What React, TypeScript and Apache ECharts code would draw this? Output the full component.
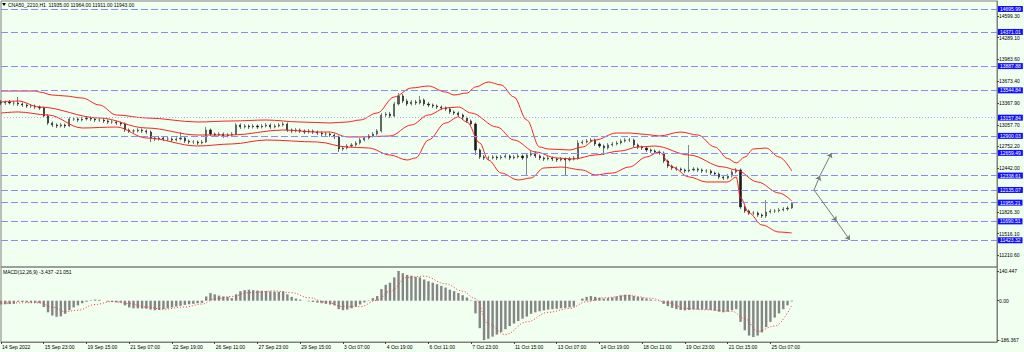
import { useEffect, useRef } from 'react';
import * as echarts from 'echarts';

const FONT = '"Liberation Sans", Arial, sans-serif';
const SYMBOL_TITLE = 'CNA50_2210,H1  11935.00 11964.00 11911.00 11943.00';
const MACD_TITLE = 'MACD(12,26,9) -3.437 -21.051';

const timeLabels = [
  '14 Sep 2022', '15 Sep 23:00', '19 Sep 15:00', '21 Sep 07:00', '22 Sep 19:00',
  '26 Sep 11:00', '27 Sep 23:00', '29 Sep 15:00', '3 Oct 07:00', '4 Oct 19:00',
  '6 Oct 11:00', '7 Oct 23:00', '11 Oct 15:00', '13 Oct 07:00', '14 Oct 19:00',
  '18 Oct 11:00', '19 Oct 23:00', '21 Oct 15:00', '25 Oct 07:00',
];
const SLOT_COUNT = 234;
const LABEL_EVERY = 10;

// [open, close, low, high]
const candles = [
  [13375, 13366, 13338, 13408], [13366, 13380, 13338, 13401], [13380, 13366, 13345, 13408], [13366, 13366, 13330, 13394], [13366, 13352, 13323, 13451],
  [13352, 13338, 13309, 13373], [13338, 13323, 13295, 13359], [13323, 13323, 13295, 13352], [13323, 13309, 13281, 13345], [13309, 13295, 13267, 13330],
  [13295, 13182, 13154, 13316], [13182, 13083, 13055, 13210], [13083, 13055, 13026, 13104], [13055, 13040, 13012, 13076], [13040, 13055, 13019, 13083],
  [13055, 13040, 13012, 13076], [13040, 13139, 13026, 13168], [13139, 13139, 13111, 13168], [13139, 13125, 13097, 13161], [13125, 13139, 13104, 13168],
  [13139, 13154, 13118, 13182], [13154, 13139, 13111, 13175], [13139, 13125, 13097, 13161], [13125, 13125, 13097, 13154], [13125, 13111, 13083, 13146],
  [13111, 13097, 13069, 13132], [13097, 13097, 13069, 13125], [13097, 13083, 13055, 13118], [13083, 13069, 13040, 13104], [13069, 12984, 12955, 13090],
  [12984, 12970, 12941, 13005], [12970, 12970, 12941, 12998], [12970, 12984, 12948, 13012], [12984, 12970, 12941, 13005], [12970, 12955, 12927, 12991],
  [12955, 12871, 12814, 12977], [12871, 12856, 12828, 12892], [12856, 12871, 12835, 12899], [12871, 12856, 12828, 12892], [12856, 12856, 12828, 12885],
  [12856, 12842, 12814, 12878], [12842, 12856, 12821, 12885], [12856, 12871, 12835, 12955], [12871, 12828, 12800, 12892], [12828, 12814, 12786, 12849],
  [12814, 12814, 12786, 12842], [12814, 12800, 12772, 12835], [12800, 12814, 12779, 12842], [12814, 12984, 12800, 13026], [12984, 12927, 12899, 13005],
  [12927, 12913, 12885, 12948], [12913, 12927, 12892, 12955], [12927, 12899, 12871, 12948], [12899, 12913, 12878, 12941], [12913, 12927, 12892, 12955],
  [12927, 13055, 12913, 13083], [13055, 13026, 12998, 13076], [13026, 13040, 13005, 13069], [13040, 13026, 12998, 13062], [13026, 13040, 13005, 13069],
  [13040, 13026, 12998, 13062], [13026, 13040, 13005, 13069], [13040, 13055, 13019, 13083], [13055, 13026, 12998, 13076], [13026, 13040, 13005, 13069],
  [13040, 13055, 13019, 13083], [13055, 13069, 13033, 13097], [13069, 12984, 12955, 13090], [12984, 12970, 12941, 13005], [12970, 12984, 12948, 13012],
  [12984, 12970, 12941, 13005], [12970, 12955, 12927, 12991], [12955, 12970, 12934, 12998], [12970, 12955, 12927, 12991], [12955, 12941, 12913, 12977],
  [12941, 12927, 12899, 12962], [12927, 12927, 12899, 12955], [12927, 12913, 12885, 12948], [12913, 12885, 12856, 12934], [12885, 12715, 12673, 12906],
  [12715, 12729, 12687, 12757], [12729, 12757, 12708, 12786], [12757, 12772, 12736, 12800], [12772, 12800, 12750, 12828], [12800, 12842, 12779, 12871],
  [12842, 12871, 12821, 12899], [12871, 12899, 12849, 12927], [12899, 12927, 12878, 12955], [12927, 12970, 12906, 12998], [12970, 13196, 12948, 13224],
  [13196, 13210, 13168, 13239], [13210, 13182, 13154, 13239], [13182, 13352, 13161, 13380], [13352, 13465, 13330, 13507], [13465, 13394, 13366, 13493],
  [13394, 13352, 13323, 13422], [13352, 13380, 13330, 13408], [13380, 13366, 13338, 13408], [13366, 13408, 13345, 13465], [13408, 13352, 13323, 13429],
  [13352, 13338, 13309, 13380], [13338, 13323, 13295, 13359], [13323, 13309, 13281, 13345], [13309, 13295, 13267, 13330], [13295, 13281, 13253, 13316],
  [13281, 13239, 13210, 13302], [13239, 13224, 13196, 13260], [13224, 13196, 13168, 13246], [13196, 13154, 13125, 13217], [13154, 13111, 13083, 13175],
  [13111, 13069, 13040, 13132], [13069, 12701, 12630, 13090], [12701, 12602, 12573, 12722], [12602, 12588, 12559, 12630], [12588, 12588, 12559, 12616],
  [12588, 12602, 12566, 12630], [12602, 12588, 12559, 12623], [12588, 12602, 12566, 12630], [12602, 12616, 12581, 12644], [12616, 12588, 12559, 12637],
  [12588, 12602, 12566, 12630], [12602, 12616, 12581, 12644], [12616, 12588, 12559, 12637], [12588, 12630, 12347, 12658], [12630, 12658, 12609, 12687],
  [12658, 12616, 12588, 12680], [12616, 12588, 12559, 12637], [12588, 12573, 12545, 12609], [12573, 12588, 12552, 12616], [12588, 12573, 12545, 12609],
  [12573, 12559, 12531, 12595], [12559, 12573, 12538, 12602], [12573, 12559, 12347, 12595], [12559, 12573, 12538, 12602], [12573, 12588, 12552, 12616],
  [12588, 12800, 12566, 12842], [12800, 12814, 12779, 12842], [12814, 12828, 12793, 12856], [12828, 12842, 12807, 12871], [12842, 12786, 12757, 12863],
  [12786, 12757, 12729, 12807], [12757, 12729, 12630, 12779], [12729, 12772, 12708, 12800], [12772, 12786, 12750, 12814], [12786, 12800, 12765, 12828],
  [12800, 12828, 12779, 12856], [12828, 12842, 12807, 12871], [12842, 12842, 12814, 12871], [12842, 12772, 12743, 12863], [12772, 12743, 12715, 12793],
  [12743, 12729, 12701, 12764], [12729, 12701, 12673, 12750], [12701, 12687, 12658, 12722], [12687, 12673, 12644, 12708], [12673, 12658, 12630, 12694],
  [12658, 12545, 12517, 12680], [12545, 12474, 12446, 12566], [12474, 12446, 12418, 12495], [12446, 12432, 12404, 12467], [12432, 12418, 12390, 12453],
  [12418, 12404, 12375, 12439], [12404, 12418, 12383, 12772], [12418, 12432, 12397, 12460], [12432, 12418, 12390, 12453], [12418, 12404, 12375, 12439],
  [12404, 12404, 12375, 12432], [12404, 12375, 12347, 12425], [12375, 12361, 12333, 12397], [12361, 12319, 12290, 12382], [12319, 12305, 12276, 12340],
  [12305, 12333, 12283, 12361], [12333, 12390, 12312, 12418], [12390, 12418, 12368, 12446], [12418, 11894, 11866, 12439], [11894, 11838, 11809, 11915],
  [11838, 11809, 11781, 11859], [11809, 11809, 11781, 11838], [11809, 11781, 11753, 11831], [11781, 11767, 11739, 11802], [11767, 11824, 11739, 11993],
  [11824, 11838, 11802, 11866], [11838, 11838, 11809, 11866], [11838, 11852, 11817, 11880], [11852, 11866, 11831, 11894], [11866, 11880, 11838, 11908],
  [11880, 11943, 11866, 11964],
];

// Bollinger bands: [slot, value]
const bbUpper = [
  [0, 13535], [8, 13535], [9, 13521], [12, 13479], [15, 13465], [19, 13436], [23, 13338], [27, 13196], [34, 13154],
  [46, 13097], [54, 13111], [62, 13125], [70, 13097], [77, 13083], [81, 13097], [84, 13125], [88, 13224], [92, 13451],
  [96, 13578], [100, 13606], [104, 13521], [106, 13479], [109, 13507], [111, 13592], [114, 13663], [117, 13621],
  [120, 13451], [123, 13125], [126, 12743], [128, 12715], [133, 12701], [136, 12743], [139, 12842], [144, 12941],
  [147, 12941], [151, 12920], [154, 12899], [159, 12955], [163, 12913], [167, 12743], [170, 12580], [172, 12517],
  [174, 12600], [176, 12715], [179, 12729], [182, 12602], [185, 12404],
];
const bbMiddle = [
  [0, 13380], [4, 13394], [9, 13309], [23, 13154], [34, 13012], [46, 12913], [54, 12913], [66, 12984], [74, 12955],
  [77, 12955], [81, 12885], [84, 12885], [91, 12899], [96, 13055], [100, 13196], [104, 13295], [107, 13309],
  [110, 13224], [116, 13026], [120, 12842], [125, 12673], [130, 12588], [134, 12573], [139, 12630], [145, 12687],
  [149, 12743], [153, 12757], [161, 12630], [169, 12460], [172, 12418], [177, 12248], [182, 12092], [185, 11979],
];
const bbLower = [
  [0, 13224], [4, 13239], [11, 13196], [19, 13012], [27, 13026], [34, 12871], [46, 12757], [54, 12786], [62, 12842],
  [74, 12814], [81, 12743], [86, 12729], [91, 12630], [95, 12559], [97, 12588], [100, 12842], [104, 13083],
  [107, 13168], [109, 13097], [112, 12800], [114, 12559], [117, 12375], [121, 12276], [124, 12305], [127, 12446],
  [131, 12460], [136, 12418], [139, 12347], [143, 12375], [147, 12460], [151, 12602], [154, 12673], [157, 12460],
  [161, 12319], [165, 12248], [170, 12248], [172, 12319], [173, 12022], [175, 11809], [178, 11640], [182, 11540],
  [185, 11526],
];

const levelLines = [14695.99, 14371.01, 13887.88, 13544.84, 13157.84, 12900.03, 12659.49, 12338.61, 12135.07, 11955.21, 11690.51, 11423.32];
const dottedLevels = [13157.84];
const priceTicks = [14599.3, 14289.1, 13983.6, 13673.4, 13367.9, 13057.7, 12752.2, 12442.0, 11826.3, 11516.1, 11210.6];
const PRICE_MIN = 11045;
const PRICE_MAX = 14809;

const macdHist = [
  -18, -17, -16, -14, -5,
  -6, -8, -9, -10, -12,
  -30, -55, -70, -76, -74,
  -62, -45, -32, -22, -12,
  -5, 2, 5, 4, 0,
  -4, -6, -8, -9, -22,
  -32, -36, -36, -37, -38,
  -42, -45, -44, -40, -36,
  -32, -28, -24, -20, -17,
  -15, -12, -10, 20, 36,
  30, 24, 20, 18, 12,
  30, 45, 50, 52, 50,
  48, 47, 46, 44, 43,
  42, 44, 30, 18, 10,
  5, 0, -3, -6, -9,
  -12, -15, -18, -22, -40,
  -45, -42, -36, -28, -18,
  -8, 2, 12, 22, 55,
  75, 85, 110, 140.447, 130,
  122, 118, 112, 110, 100,
  92, 85, 78, 70, 62,
  52, 45, 36, 26, 15,
  2, -60, -130, -186.367, -180,
  -170, -160, -148, -135, -120,
  -108, -96, -85, -75, -62,
  -55, -50, -46, -42, -40,
  -38, -36, -34, -32, -28,
  0, 10, 18, 22, 18,
  14, 10, 12, 15, 20,
  25, 28, 28, 22, 18,
  14, 10, 6, 2, -2,
  -15, -26, -34, -40, -44,
  -46, -44, -42, -42, -42,
  -42, -44, -47, -52, -55,
  -52, -45, -40, -100, -140,
  -165, -172, -165, -150, -125,
  -100, -80, -60, -40, -22, -3.437,
];
const macdSignal = [
  [0, -12], [5, -10], [9, -10], [12, -30], [15, -52], [18, -45], [22, -18], [26, -4], [30, -14], [34, -30],
  [38, -40], [43, -30], [47, -16], [50, 8], [54, 20], [58, 38], [64, 46], [68, 38], [72, 14], [76, -6],
  [80, -28], [84, -28], [88, 2], [91, 45], [95, 110], [99, 116], [104, 80], [108, 45], [111, 10], [114, -110],
  [118, -160], [123, -100], [128, -55], [133, -37], [137, -5], [141, 14], [147, 24], [152, 12], [156, -10],
  [160, -36], [165, -43], [171, -50], [174, -85], [177, -145], [181, -120], [185, -21.051],
];
const macdTicks = [140.447, 0, -186.367];
const MACD_MIN = -195.3;
const MACD_MAX = 159.3;

// projection arrows: [slot, price] segments
const arrowSegments = [
  [[190.2, 12135.07], [191.6, 12338.61]],
  [[191.6, 12338.61], [194.3, 12659.49]],
  [[190.2, 12135.07], [195.5, 11690.51]],
  [[195.5, 11690.51], [198.6, 11423.32]],
];

const categories = Array.from({ length: SLOT_COUNT }, (_, i) => String(i));
const labelShown = (i: number) => i % LABEL_EVERY === 0 && i / LABEL_EVERY < timeLabels.length;

const BG = '#f0fff0';
const BORDER = '#808080';
const LEVEL_COLOR = '#8a8aff';

function buildOption() {
  const textBase = { fontFamily: FONT, fontSize: 5, color: '#000' };
  const levelData = levelLines.map((v) => {
    const dotted = dottedLevels.includes(v);
    return {
      yAxis: v,
      lineStyle: dotted
        ? { color: '#a8b0ff', type: [1, 2], width: 1 }
        : { color: LEVEL_COLOR, type: [7, 3], width: 1 },
      label: {
        show: true,
        position: 'end',
        distance: 1,
        formatter: v.toFixed(2),
        backgroundColor: '#1010ff',
        color: '#ffffff',
        fontFamily: FONT,
        fontSize: 5,
        padding: [1, 2, 0, 2],
      },
    };
  });

  return {
    animation: false,
    backgroundColor: BG,
    title: [
      { text: SYMBOL_TITLE, left: 8, top: 2, padding: 0, textStyle: { ...textBase, fontWeight: 'normal' } },
      { text: MACD_TITLE, left: 3, top: 269, padding: 0, textStyle: { ...textBase, fontWeight: 'normal' } },
    ],
    graphic: [
      { type: 'polygon', shape: { points: [[2, 3], [6, 3], [4, 6]] }, style: { fill: '#000' } },
    ],
    grid: [
      { left: 1, top: 1, width: 996, height: 266, show: true, borderColor: BORDER, borderWidth: 1, backgroundColor: 'transparent', outerBoundsMode: 'none' },
      { left: 1, top: 267, width: 996, height: 75, show: true, borderColor: BORDER, borderWidth: 1, backgroundColor: 'transparent', outerBoundsMode: 'none' },
    ],
    xAxis: [
      { type: 'category', gridIndex: 0, data: categories, boundaryGap: false, show: false, axisLine: { onZero: false } },
      { type: 'value', gridIndex: 0, min: 0, max: SLOT_COUNT - 1, show: false, axisLine: { onZero: false } },
      {
        type: 'category', gridIndex: 1, data: categories, boundaryGap: false,
        axisLine: { show: true, onZero: false, lineStyle: { color: BORDER } },
        axisTick: { show: true, interval: (i: number) => labelShown(i), length: 2, lineStyle: { color: '#444' } },
        axisLabel: {
          show: true,
          interval: (i: number) => labelShown(i),
          formatter: (_v: string, i: number) => (labelShown(i) ? timeLabels[i / LABEL_EVERY] : ''),
          align: 'left',
          margin: 2,
          padding: [0, 0, 0, 1],
          ...textBase,
        },
        splitLine: { show: false },
      },
      { type: 'value', gridIndex: 1, min: 0, max: SLOT_COUNT - 1, show: false, axisLine: { onZero: false } },
    ],
    yAxis: [
      {
        type: 'value', gridIndex: 0, position: 'right', min: PRICE_MIN, max: PRICE_MAX,
        axisLine: { show: true, onZero: false, lineStyle: { color: BORDER } },
        axisTick: { show: true, customValues: priceTicks, length: 2, lineStyle: { color: '#444' } },
        axisLabel: { show: true, customValues: priceTicks, formatter: (v: number) => v.toFixed(2), margin: 2, ...textBase },
        splitLine: { show: false },
      },
      {
        type: 'value', gridIndex: 1, position: 'right', min: MACD_MIN, max: MACD_MAX,
        axisLine: { show: true, onZero: false, lineStyle: { color: BORDER } },
        axisTick: { show: true, customValues: macdTicks, length: 2, lineStyle: { color: '#444' } },
        axisLabel: {
          show: true, customValues: macdTicks,
          formatter: (v: number) => (v === 0 ? '0.00' : String(v)),
          margin: 2, ...textBase,
        },
        splitLine: { show: false },
      },
    ],
    series: [
      {
        type: 'candlestick',
        xAxisIndex: 0, yAxisIndex: 0,
        data: candles,
        barWidth: 1.6,
        itemStyle: { color: '#555555', color0: '#1a1a1a', borderColor: '#3a3a3a', borderColor0: '#1a1a1a', borderWidth: 0.6 },
        markLine: { symbol: ['none', 'none'], silent: true, animation: false, data: levelData },
        z: 3,
      },
      {
        type: 'line', xAxisIndex: 1, yAxisIndex: 0, data: bbUpper, smooth: 0.35, smoothMonotone: 'x',
        showSymbol: false, lineStyle: { color: '#ff2020', width: 1 }, z: 4,
      },
      {
        type: 'line', xAxisIndex: 1, yAxisIndex: 0, data: bbMiddle, smooth: 0.35, smoothMonotone: 'x',
        showSymbol: false, lineStyle: { color: '#ff2020', width: 1 }, z: 4,
      },
      {
        type: 'line', xAxisIndex: 1, yAxisIndex: 0, data: bbLower, smooth: 0.35, smoothMonotone: 'x',
        showSymbol: false, lineStyle: { color: '#ff2020', width: 1 }, z: 4,
      },
      {
        type: 'lines', coordinateSystem: 'cartesian2d', xAxisIndex: 1, yAxisIndex: 0,
        symbol: ['none', 'arrow'], symbolSize: 5,
        lineStyle: { color: '#7a7a7a', width: 1, opacity: 1 },
        data: arrowSegments.map((c) => ({ coords: c })),
        z: 5,
      },
      {
        type: 'bar', xAxisIndex: 2, yAxisIndex: 1, data: macdHist, barWidth: 2.4,
        itemStyle: { color: '#858585' },
      },
      {
        type: 'line', xAxisIndex: 3, yAxisIndex: 1, data: macdSignal, smooth: 0.4, smoothMonotone: 'x',
        showSymbol: false, lineStyle: { color: '#ff3030', width: 1, type: [1, 2] }, z: 4,
      },
    ],
  };
}

export default function App() {
  const ref = useRef<HTMLDivElement>(null);
  useEffect(() => {
    if (!ref.current) return;
    const chart = echarts.init(ref.current, null, { renderer: 'svg' });
    chart.setOption(buildOption() as any);
    return () => chart.dispose();
  }, []);
  return (
    <div
      ref={ref}
      style={{ position: 'fixed', left: 0, top: 0, width: 1024, height: 352, background: BG }}
    />
  );
}
